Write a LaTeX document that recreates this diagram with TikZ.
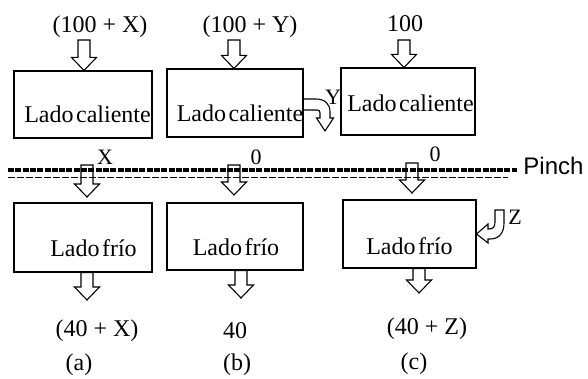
\documentclass[tikz,border=0pt]{standalone}
\usepackage{fontspec}
\setmainfont{Liberation Serif}
\newfontfamily\pinchfont{Liberation Sans}
\usetikzlibrary{calc}
\newcommand{\tightsp}{\spaceskip=2.5pt\relax}
\tikzset{
  panel/.style={draw, line width=1.1pt, inner sep=0pt},
  txt/.style={inner sep=0pt, font=\fontsize{24}{28}\selectfont},
  lbl/.style={inner sep=0pt, font=\fontsize{24}{28}\selectfont},
  small/.style={inner sep=0pt, font=\fontsize{22}{26}\selectfont},
  barrow/.style={draw, line width=1.1pt, line join=miter},
  thickpinch/.style={line width=4.5pt, dash pattern=on 6pt off 1.3pt},
  thinpinch/.style={line width=1pt, dash pattern=on 7pt off 2pt},
}
\newcommand{\blockarrow}[2]{%
  \draw[barrow] let \p1=(#1), \p2=(#2) in
    (\x1-6pt,\y1) -- (\x1-6pt,\y2+13pt) -- (\x1-12.5pt,\y2+13pt) -- (\x1,\y2)
    -- (\x1+12.5pt,\y2+13pt) -- (\x1+6pt,\y2+13pt) -- (\x1+6pt,\y1) -- cycle;}
\begin{document}
\begin{tikzpicture}[x=1pt,y=-1pt]
\useasboundingbox (0,0) rectangle (588,379);

% pinch lines
\coordinate (pl) at (8,170); \coordinate (pr) at (517,170);
\coordinate (ql) at (8,178); \coordinate (qr) at (508,178);
\draw[thickpinch] (pl) -- (pr);
\draw[thinpinch] (ql) -- (qr);
\node[inner sep=0pt, font=\pinchfont\fontsize{24}{28}\selectfont] (pinch) at (553.5,166) {Pinch};

% hot boxes
\node[panel, minimum width=138pt, minimum height=67pt] (ha) at (83,104.5) {};
\node[panel, minimum width=136pt, minimum height=68pt] (hb) at (235,103) {};
\node[panel, minimum width=134pt, minimum height=67pt] (hc) at (408,101.5) {};
\node[txt] (hat) at (87.5,114) {\tightsp Lado caliente};
\node[txt] (hbt) at (240,113) {\tightsp Lado caliente};
\node[txt] (hct) at (410.5,103) {\tightsp Lado caliente};

% cold boxes
\node[panel, minimum width=138pt, minimum height=69pt] (ca) at (83,237.5) {};
\node[panel, minimum width=136pt, minimum height=67pt] (cb) at (235,236.5) {};
\node[panel, minimum width=133pt, minimum height=68pt] (cc) at (409.5,234) {};
\node[txt] (cat) at (93.5,248) {\tightsp Lado frío};
\node[txt] (cbt) at (236,247) {\tightsp Lado frío};
\node[txt] (cct) at (409.5,246) {\tightsp Lado frío};

% top labels
\node[lbl] (ta) at (100,27) {(100 + X)};
\node[lbl] (tb) at (250,27) {(100 + Y)};
\node[lbl] (tc) at (405,24) {100};

% pinch labels
\node[small] (xa) at (105,157) {X};
\node[small] (xb) at (256,157) {0};
\node[small] (xc) at (435,154) {0};

% bottom labels
\node[lbl] (ba) at (97,331) {(40 + X)};
\node[lbl] (bb) at (235,331) {40};
\node[lbl] (bc) at (427,329) {(40 + Z)};
\node[lbl] (la) at (79,365) {(a)};
\node[lbl] (lb) at (237,365) {(b)};
\node[lbl] (lc) at (414,364) {(c)};

% side labels
\node[small] (ylab) at (333,97) {Y};
\node[small] (zlab) at (515,217) {Z};

% top block arrows
\coordinate (a1) at (84,40);
\coordinate (b1) at (234,40);
\coordinate (c1) at (404,40);
\blockarrow{a1}{ha.north -| a1}
\blockarrow{b1}{hb.north -| b1}
\blockarrow{c1}{hc.north -| c1}

% through-pinch block arrows
\coordinate (a2) at (87,165); \coordinate (a2e) at (87,197);
\coordinate (b2) at (234,165); \coordinate (b2e) at (234,195);
\coordinate (c2) at (412,163); \coordinate (c2e) at (412,193);
\blockarrow{a2}{a2e}
\blockarrow{b2}{b2e}
\blockarrow{c2}{c2e}

% bottom block arrows
\coordinate (a3) at (87,300);
\coordinate (b3) at (241,298);
\coordinate (c3) at (419,293);
\blockarrow{ca.south -| a3}{a3}
\blockarrow{cb.south -| b3}{b3}
\blockarrow{cc.south -| c3}{c3}

% Y curved arrow out of hot box b
\draw[barrow] (hb.east |- 0,99) -- (316,99) .. controls (325,99) and (330,104) .. (330,112)
  -- (330,118) -- (333.5,118) -- (325,131) -- (316.5,118) -- (320,118) -- (320,113)
  .. controls (320,111) and (319,110) .. (317,110) -- (hb.east |- 0,110);

% Z curved arrow into cold box c
\draw[barrow] (495,210) -- (495,222) .. controls (495,227) and (493,229) .. (489,229)
  -- (488,229) -- (488,224) -- (cc.east |- 0,234) -- (488,243) -- (488,239) -- (490,239)
  .. controls (499,239) and (504,233) .. (504,223) -- (504,210) -- cycle;
\end{tikzpicture}
\end{document}
